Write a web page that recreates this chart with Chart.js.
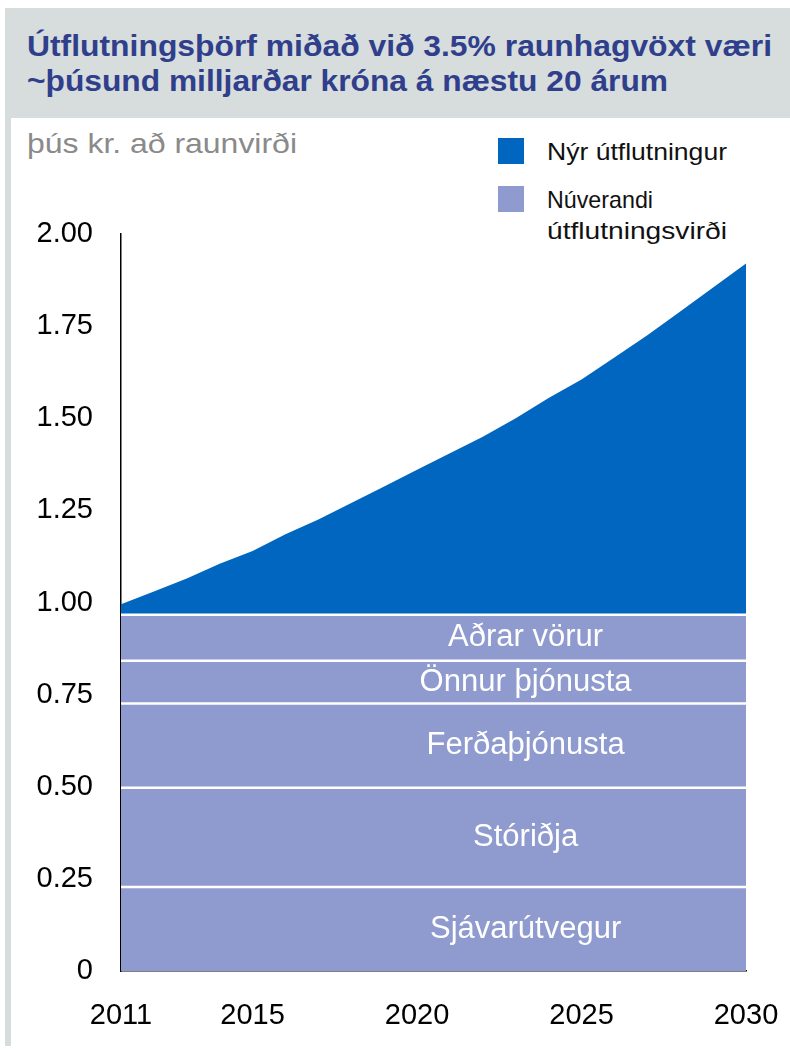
<!doctype html>
<html lang="is">
<head>
<meta charset="utf-8">
<title>Útflutningsþörf</title>
<style>
  body { margin: 0; background: #fff; font-family: 'Liberation Sans', Arial, Helvetica, sans-serif; }
  #page { position: relative; width: 790px; height: 1055px; overflow: hidden; }
  .abs { position: absolute; white-space: nowrap; transform-origin: left center; }
  .title { color: #2f3f8c; font-weight: bold; font-size: 30px; line-height: 34px; }
  .legtxt { color: #111; font-size: 24px; line-height: 28px; }
  .sq { position: absolute; width: 26px; height: 26px; }
</style>
</head>
<body>
<div id="page">
  <div style="position:absolute;left:5px;top:8px;width:785px;height:110px;background:#d7dcdc"></div>
  <div style="position:absolute;left:5px;top:118px;width:6px;height:928px;background:#d7dcdc"></div>
  <div class="abs title" data-w="745" style="left:27px;top:29px">Útflutningsþörf miðað við 3.5% raunhagvöxt væri</div>
  <div class="abs title" data-w="641" style="left:27px;top:64px">~þúsund milljarðar króna á næstu 20 árum</div>
  <div class="abs" data-w="270" style="left:27px;top:128px;font-size:28px;line-height:32px;color:#8a8a8a">þús kr. að raunvirði</div>

  <div class="sq" style="left:498px;top:138px;background:#0066bf"></div>
  <div class="abs legtxt" data-w="180" style="left:547px;top:138px">Nýr útflutningur</div>
  <div class="sq" style="left:498px;top:186px;background:#8f9bcf"></div>
  <div class="abs legtxt" data-w="106" style="left:547px;top:186px">Núverandi</div>
  <div class="abs legtxt" data-w="180" style="left:547px;top:217px">útflutningsvirði</div>

  <canvas id="chart" width="790" height="1055" style="position:absolute;left:0;top:0"></canvas>
</div>

<script src="https://cdn.jsdelivr.net/npm/chart.js"></script>
<script>
// squeeze text blocks to the widths measured on the picture
document.querySelectorAll('[data-w]').forEach(el => {
  const w = el.getBoundingClientRect().width;
  el.style.transform = 'scaleX(' + (Number(el.dataset.w) / w) + ')';
});

const years = [2011, 2012, 2013, 2014, 2015, 2016, 2017, 2018, 2019, 2020,
               2021, 2022, 2023, 2024, 2025, 2026, 2027, 2028, 2029, 2030];
const totalExports = [0.995, 1.03, 1.065, 1.105, 1.14, 1.185, 1.225, 1.27, 1.315, 1.36,
                      1.405, 1.45, 1.50, 1.555, 1.605, 1.665, 1.725, 1.79, 1.855, 1.92];
const sectorNames = ['Sjávarútvegur', 'Stóriðja', 'Ferðaþjónusta', 'Önnur þjónusta', 'Aðrar vörur'];
const sectorTops = [0.228, 0.497, 0.726, 0.842, 0.967];
const xTickYears = [2011, 2015, 2020, 2025, 2030];
const yTickValues = [0, 0.25, 0.5, 0.75, 1, 1.25, 1.5, 1.75, 2];

const FONT = "'Liberation Sans', Arial, Helvetica, sans-serif";
const BAND = '#8f9bcf';
const BLUE = '#0066bf';

const datasets = sectorNames.map((name, i) => ({
  label: name,
  data: years.map(y => ({ x: y, y: sectorTops[i] })),
  borderColor: '#ffffff',
  borderWidth: 2.5,
  backgroundColor: BAND,
  fill: 'origin',
  pointRadius: 0
}));
datasets.push({
  label: 'Nýr útflutningur',
  data: years.map((y, i) => ({ x: y, y: totalExports[i] })),
  borderWidth: 0,
  borderColor: BLUE,
  backgroundColor: BLUE,
  fill: 'origin',
  pointRadius: 0,
  tension: 0
});

const bandLabels = {
  id: 'bandLabels',
  afterDatasetsDraw(chart) {
    const ctx = chart.ctx;
    const xs = chart.scales.x, ys = chart.scales.y;
    ctx.save();
    ctx.fillStyle = '#ffffff';
    ctx.font = '31px ' + FONT;
    ctx.textAlign = 'center';
    ctx.textBaseline = 'middle';
    sectorNames.forEach((name, i) => {
      const lo = i ? sectorTops[i - 1] : 0;
      const y = ys.getPixelForValue((lo + sectorTops[i]) / 2);
      ctx.fillText(name, xs.getPixelForValue(2023.3), y);
    });
    ctx.restore();
  }
};

new Chart(document.getElementById('chart'), {
  type: 'line',
  data: { datasets },
  plugins: [bandLabels],
  options: {
    responsive: false,
    devicePixelRatio: 1,
    animation: false,
    layout: { padding: { top: 234, right: 44, bottom: 0, left: 0 } },
    plugins: { legend: { display: false }, tooltip: { enabled: false } },
    scales: {
      x: {
        type: 'linear',
        min: 2011,
        max: 2030,
        z: 1,
        afterFit: s => { s.height = 84; s.paddingLeft = 0; s.paddingRight = 0; },
        afterBuildTicks: s => { s.ticks = xTickYears.map(v => ({ value: v })); },
        grid: { display: false, drawTicks: false },
        border: { display: true, color: '#000', width: 1.5 },
        ticks: { color: '#000', padding: 28, maxRotation: 0, autoSkip: false,
                 font: { family: FONT, size: 29 }, callback: v => String(v) }
      },
      y: {
        min: 0,
        max: 2,
        z: 1,
        afterFit: s => { s.width = 121; s.paddingTop = 0; s.paddingBottom = 0; },
        afterBuildTicks: s => { s.ticks = yTickValues.map(v => ({ value: v })); },
        grid: { display: false, drawTicks: false },
        border: { display: true, color: '#000', width: 1.5 },
        ticks: { color: '#000', padding: 28,
                 font: { family: FONT, size: 29 },
                 callback: v => v === 0 ? '0' : v.toFixed(2) }
      }
    }
  }
});
</script>
</body>
</html>
